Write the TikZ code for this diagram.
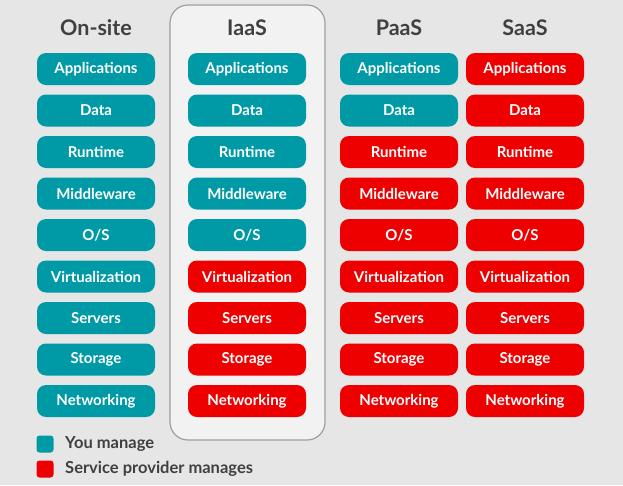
\documentclass[tikz,border=0pt]{standalone}
\usepackage{fontspec}
\setmainfont{Lato}
\usetikzlibrary{positioning}
\definecolor{mine}{RGB}{0,154,166}
\definecolor{provider}{RGB}{238,0,0}
\definecolor{bggray}{RGB}{230,230,230}
\definecolor{headgray}{RGB}{64,64,64}

\begin{document}
\begin{tikzpicture}[x=1pt, y=-1pt,
	layer/.style={rounded corners=9pt, minimum width=118pt, minimum height=32pt, inner sep=0pt, text=white, font=\bfseries\fontsize{15}{16}\selectfont},
	you/.style={layer, fill=mine},
	prov/.style={layer, fill=provider},
	head/.style={text=headgray, font=\bfseries\fontsize{21.5}{23}\selectfont},
	keybox/.style={rounded corners=3pt, minimum size=17pt, inner sep=0pt},
	keytext/.style={text=headgray, font=\bfseries\fontsize{16.5}{18}\selectfont}]
	\useasboundingbox (0,0) rectangle (623,485);
	\fill[bggray] (0,0) rectangle (623,485);
	% highlighted IaaS column
	\draw[gray!75, fill=gray!10, line width=1.2pt, rounded corners=18pt] (170,5) rectangle (325,440);

	\foreach \col/\x/\k/\title in {onsite/96/9/On-site, iaas/247/5/IaaS, paas/399/2/PaaS, saas/525/0/SaaS} {
		\node[head] (\col-head) at (\x,28) {\title};
		\foreach \lbl [count=\r] in {Applications, Data, Runtime, Middleware, O/S, Virtualization, Servers, Storage, Networking} {
			\ifnum\r>\k \def\sty{prov}\else\def\sty{you}\fi
			\node[\sty] (\col-\r) at (\x, {69+(\r-1)*41.5}) {\lbl};
		}
	}

	% legend
	\node[keybox, fill=mine] (key-you) at (45,444) {};
	\node[keytext, right=8pt of key-you] (key-you-text) {You manage};
	\node[keybox, fill=provider] (key-prov) at (45,469) {};
	\node[keytext, right=8pt of key-prov] (key-prov-text) {Service provider manages};
\end{tikzpicture}
\end{document}
